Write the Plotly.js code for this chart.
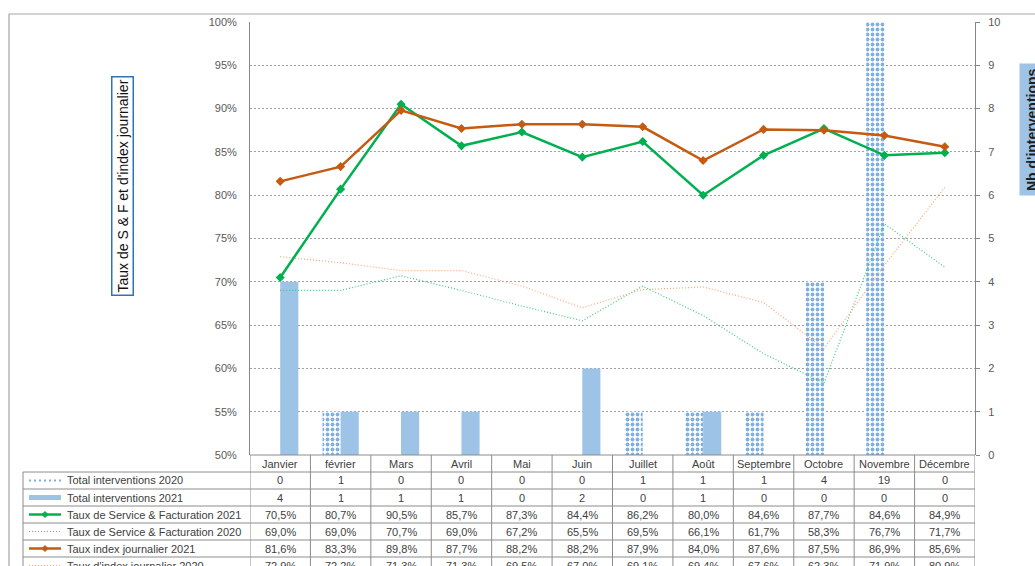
<!DOCTYPE html>
<html><head><meta charset="utf-8">
<script src="https://cdn.plot.ly/plotly-3.0.1.min.js"></script>
<style>html,body{margin:0;padding:0;background:#fff;}#chart{width:1035px;height:566px;}</style>
</head><body><div id="chart"></div>
<script>
const months = ['Janvier','février','Mars','Avril','Mai','Juin','Juillet','Août','Septembre','Octobre','Novembre','Décembre'];
const interventions2020 = [0,1,0,0,0,0,1,1,1,4,19,0];
const interventions2021 = [4,1,1,1,0,2,0,1,0,0,0,0];
const tauxSF2021 = [70.5,80.7,90.5,85.7,87.3,84.4,86.2,80.0,84.6,87.7,84.6,84.9];
const tauxSF2020 = [69.0,69.0,70.7,69.0,67.2,65.5,69.5,66.1,61.7,58.3,76.7,71.7];
const tauxIdx2021 = [81.6,83.3,89.8,87.7,88.2,88.2,87.9,84.0,87.6,87.5,86.9,85.6];
const tauxIdx2020 = [72.9,72.2,71.3,71.3,69.5,67.0,69.1,69.4,67.6,62.3,71.9,80.9];
const seriesNames = ['Total interventions 2020','Total interventions 2021','Taux de Service & Facturation 2021','Taux de Service & Facturation 2020','Taux index journalier 2021',"Taux d'index journalier 2020"];

const xi = months.map((m,i)=>i);
const BLUE='#9DC3E6', GREEN='#00B050', GREEN_L='#3CC878', ORANGE='#C55A11', ORANGE_L='#F4A87A';
const FONT='Liberation Sans, Arial, sans-serif';
const TXT='#404040';

// pixel helpers (plot area: x 250..975, y 22..455)
const L=250,R=975,T=22,B=455;
const PW=R-L, PH=B-T;
const X=px=>(px-L)/PW, Y=py=>(B-py)/PH;

const traces=[
 {type:'bar',x:xi,y:interventions2020,name:seriesNames[0],yaxis:'y',
  marker:{color:'white',line:{width:0},pattern:{shape:'.',fgcolor:'#7FB0E0',bgcolor:'white',size:5,solidity:0.45}}},
 {type:'bar',x:xi,y:interventions2021,name:seriesNames[1],yaxis:'y',marker:{color:BLUE,line:{width:0}}},
 {type:'scatter',mode:'lines',x:xi,y:tauxSF2020.map(v=>v/100),name:seriesNames[3],yaxis:'y2',
  line:{color:GREEN_L,width:1.2,dash:'1px,2px'}},
 {type:'scatter',mode:'lines',x:xi,y:tauxIdx2020.map(v=>v/100),name:seriesNames[5],yaxis:'y2',
  line:{color:ORANGE_L,width:1.2,dash:'1px,2px'}},
 {type:'scatter',mode:'lines+markers',x:xi,y:tauxSF2021.map(v=>v/100),name:seriesNames[2],yaxis:'y2',
  line:{color:GREEN,width:2.5},marker:{symbol:'diamond',size:7,color:GREEN}},
 {type:'scatter',mode:'lines+markers',x:xi,y:tauxIdx2021.map(v=>v/100),name:seriesNames[4],yaxis:'y2',
  line:{color:ORANGE,width:2.5},marker:{symbol:'diamond',size:7,color:ORANGE}}
];

const shapes=[], annotations=[];
const GRIDC='#8c8c8c';
// outer chart border
shapes.push({type:'line',xref:'paper',yref:'paper',x0:X(9),x1:X(1040),y0:Y(14),y1:Y(14),line:{color:'#a6a6a6',width:1.2}});
shapes.push({type:'line',xref:'paper',yref:'paper',x0:X(9),x1:X(9),y0:Y(14),y1:Y(580),line:{color:'#a6a6a6',width:1.2}});

// table geometry
const rowTops=[455,472,489,506,523,540,557,574];
shapes.push({type:'line',xref:'paper',yref:'paper',x0:X(L),x1:X(R),y0:Y(455),y1:Y(455),line:{color:GRIDC,width:1}});
for(let r=1;r<rowTops.length-1;r++){
  shapes.push({type:'line',xref:'paper',yref:'paper',x0:X(23),x1:X(R),y0:Y(rowTops[r]),y1:Y(rowTops[r]),line:{color:GRIDC,width:1}});
}
shapes.push({type:'line',xref:'paper',yref:'paper',x0:X(23),x1:X(23),y0:Y(472),y1:Y(580),line:{color:GRIDC,width:1}});
for(let i=0;i<=months.length;i++){
  shapes.push({type:'line',xref:'x',yref:'paper',x0:i-0.5,x1:i-0.5,y0:Y(455),y1:Y(580),line:{color:GRIDC,width:1}});
}
months.forEach((m,i)=>annotations.push({xref:'x',yref:'paper',x:i,y:Y(463.5),text:m,showarrow:false,font:{family:FONT,size:11,color:TXT},xanchor:'center',yanchor:'middle'}));
const fmt=v=>v.toFixed(1).replace('.',',')+'%';
const rows=[interventions2020.map(String),interventions2021.map(String),tauxSF2021.map(fmt),tauxSF2020.map(fmt),tauxIdx2021.map(fmt),tauxIdx2020.map(fmt)];
rows.forEach((row,r)=>{
  const yc=(rowTops[r+1]+rowTops[r+2])/2;
  row.forEach((t,i)=>annotations.push({xref:'x',yref:'paper',x:i,y:Y(yc),text:t,showarrow:false,font:{family:FONT,size:11,color:TXT},xanchor:'center',yanchor:'middle'}));
  annotations.push({xref:'paper',yref:'paper',x:X(65),y:Y(yc),xanchor:'left',yanchor:'middle',text:seriesNames[r],showarrow:false,font:{family:FONT,size:11,color:TXT}});
  const gx0=X(29), gx1=X(61), gy=Y(yc);
  let ln;
  if(r===0) ln={color:'#7FB0E0',width:2,dash:'2px,3px'};
  if(r===1) ln={color:BLUE,width:5};
  if(r===2) ln={color:GREEN,width:2.5};
  if(r===3) ln={color:GREEN_L,width:1.2,dash:'1px,2px'};
  if(r===4) ln={color:ORANGE,width:2.5};
  if(r===5) ln={color:ORANGE_L,width:1.2,dash:'1px,2px'};
  shapes.push({type:'line',xref:'paper',yref:'paper',x0:gx0,x1:gx1,y0:gy,y1:gy,line:ln});
  if(r===2||r===4){
    const c=r===2?GREEN:ORANGE, cx=45, cy=yc, s=3;
    shapes.push({type:'path',xref:'paper',yref:'paper',path:`M ${X(cx-s)} ${Y(cy)} L ${X(cx)} ${Y(cy-s)} L ${X(cx+s)} ${Y(cy)} L ${X(cx)} ${Y(cy+s)} Z`,fillcolor:c,line:{color:c,width:1}});
  }
});

// axis titles
annotations.push({xref:'paper',yref:'paper',x:X(122.5),y:Y(186.5),xanchor:'center',yanchor:'middle',text:"Taux de S & F et d'index journalier",textangle:-90,showarrow:false,
  font:{family:FONT,size:14,color:'#111'},bordercolor:'#2E75B6',borderwidth:1.5,borderpad:2,bgcolor:'white'});
annotations.push({xref:'paper',yref:'paper',x:X(1032),y:Y(130),xanchor:'center',yanchor:'middle',text:"<b>Nb d'interventions</b>",textangle:-90,showarrow:false,
  font:{family:FONT,size:14,color:'#1f1f1f'},bgcolor:BLUE,borderpad:4});

const layout={
  width:1035,height:566,
  margin:{l:L,r:1035-R,t:T,b:566-B},
  paper_bgcolor:'white',plot_bgcolor:'white',
  showlegend:false,
  barmode:'group',bargap:0.4,bargroupgap:0,
  font:{family:FONT,size:11,color:'#595959'},
  xaxis:{range:[-0.5,11.5],showticklabels:false,showgrid:false,zeroline:false,fixedrange:true,ticks:''},
  yaxis:{side:'right',range:[0,10],dtick:1,showgrid:true,gridcolor:'#a0a0a0',griddash:'2px,2px',gridwidth:1,zeroline:false,
    showline:true,linecolor:'#868686',linewidth:1,ticks:'outside',ticklen:4,tickcolor:'#868686',ticklabelstandoff:6,
    tickfont:{family:FONT,size:11,color:'#595959'}},
  yaxis2:{overlaying:'y',side:'left',range:[0.5,1.0],dtick:0.05,tickformat:'.0%',showgrid:false,zeroline:false,
    showline:true,linecolor:'#868686',linewidth:1,ticks:'',ticklabelstandoff:10,
    tickfont:{family:FONT,size:11,color:'#595959'}},
  shapes:shapes,annotations:annotations
};
Plotly.newPlot('chart',traces,layout,{displayModeBar:false,staticPlot:true});
</script></body></html>
